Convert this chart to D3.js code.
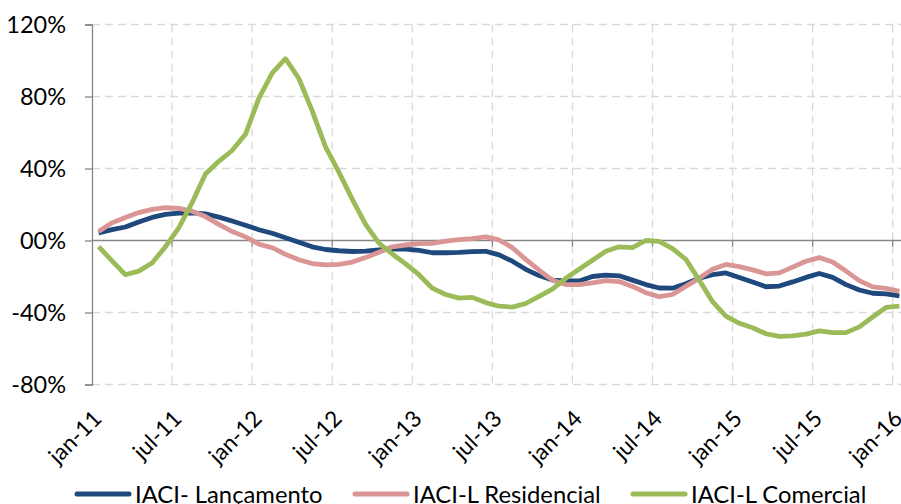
<!DOCTYPE html>
<html>
<head>
<meta charset="utf-8">
<script src="https://cdn.jsdelivr.net/npm/d3@7"></script>
<style>
  body { margin: 0; background: #fff; }
  text { font-family: Lato, "Open Sans", sans-serif; fill: #000; }
</style>
</head>
<body>
<div id="vis"></div>
<script>
// chart values (variation in %, monthly jan-11 .. jan-16)
const tickLabels = ['jan-11', 'jul-11', 'jan-12', 'jul-12', 'jan-13', 'jul-13',
                    'jan-14', 'jul-14', 'jan-15', 'jul-15', 'jan-16']
const yTicks = [-80, -40, 0, 40, 80, 120]
const seriesNames = ['IACI- Lançamento', 'IACI-L Residencial', 'IACI-L Comercial']

const lancamento = [4.2, 6, 7.5, 10.3, 12.8, 14.5, 15.2, 15.4, 14.8, 13, 10.8, 8.5,
  6, 4, 1.5, -1, -3.5, -5, -5.7, -6.1, -5.9, -5.2, -4.6, -4.8,
  -5.5, -6.8, -6.8, -6.6, -6.2, -6, -8, -11.5, -16, -19.5, -22, -22.5,
  -22.5, -20, -19.2, -19.6, -22, -24.5, -26.4, -26.5, -24, -21, -19, -18,
  -20.5, -23, -25.7, -25.3, -23, -20.5, -18.3, -20.5, -24.5, -27.5, -29.3, -29.7,
  -30.8]
const residencial = [5, 9.8, 12.8, 15.5, 17.3, 18.2, 17.8, 16.3, 13.3, 9, 5, 2,
  -2, -4, -7.7, -10.7, -12.8, -13.5, -13.3, -12, -9.5, -6.5, -3.5, -2.5,
  -1.7, -1.6, -0.3, 0.5, 1, 2, 0.3, -4, -10.5, -16.5, -22, -24.5,
  -24.5, -23.5, -22.3, -22.8, -25.5, -29, -31.2, -30, -25.5, -21, -16, -13.3,
  -14.5, -16.3, -18.5, -18, -14.8, -11.5, -9.5, -12, -17, -22.3, -25.8, -26.6,
  -28.3]
const comercial = [-3.4, -11.3, -19, -17, -12.5, -3.5, 7, 21, 37, 44, 50, 59,
  79, 93, 101, 90, 72, 52, 38, 23, 9, -1.5, -7.5, -13,
  -19, -26.5, -30, -32, -31.6, -34.5, -36.5, -37, -35, -31, -27, -21,
  -16, -11, -6, -3.5, -4, 0, -0.5, -4.5, -10.5, -22, -34, -42,
  -46, -48.5, -51.8, -53.3, -53, -52, -50.2, -51.2, -51.2, -48, -42.5, -37.2,
  -36.5]

const colors = ['#1F497D', '#DA9694', '#9BBB59']
const allSeries = [lancamento, residencial, comercial]

const W = 901, H = 504
const plot = { left: 92, top: 24.5, bottom: 384.5, monthW: 13.345 }

const svg = d3.select('#vis')
  .append('svg')
  .attr('width', W)
  .attr('height', H)

const xScale = d3.scaleLinear()
  .domain([0, 61])
  .range([plot.left, plot.left + 61 * plot.monthW])
const yScale = d3.scaleLinear()
  .domain([-80, 120])
  .range([plot.bottom, plot.top])

const gridMonths = d3.range(0, 61, 6)

// horizontal dashed gridlines
svg.selectAll('.hgrid')
  .data(yTicks.filter(d => d !== 0))
  .join('line')
  .attr('x1', plot.left).attr('x2', W)
  .attr('y1', d => yScale(d)).attr('y2', d => yScale(d))
  .attr('stroke', '#D9D9D9').attr('stroke-width', 1.3)
  .attr('stroke-dasharray', '8,5')

// vertical dashed gridlines
svg.selectAll('.vgrid')
  .data(gridMonths.slice(1))
  .join('line')
  .attr('x1', d => xScale(d)).attr('x2', d => xScale(d))
  .attr('y1', plot.top).attr('y2', plot.bottom)
  .attr('stroke', '#D9D9D9').attr('stroke-width', 1.3)
  .attr('stroke-dasharray', '8,5')

// zero line with ticks (category axis)
svg.append('line')
  .attr('x1', plot.left).attr('x2', W)
  .attr('y1', yScale(0)).attr('y2', yScale(0))
  .attr('stroke', '#868686').attr('stroke-width', 1.3)
svg.selectAll('.xtick')
  .data(gridMonths.slice(1))
  .join('line')
  .attr('x1', d => xScale(d)).attr('x2', d => xScale(d))
  .attr('y1', yScale(0)).attr('y2', yScale(0) + 6)
  .attr('stroke', '#868686').attr('stroke-width', 1.3)

// y axis
const yAxis = d3.axisLeft(yScale)
  .tickValues(yTicks)
  .tickSize(7)
  .tickFormat(d => (d === 0 ? '00' : d) + '%')
const gy = svg.append('g')
  .attr('transform', `translate(${plot.left},0)`)
  .call(yAxis)
gy.select('.domain').attr('stroke', '#868686').attr('stroke-width', 1.3)
gy.selectAll('.tick line').attr('stroke', '#868686').attr('stroke-width', 1.3)
gy.selectAll('.tick text')
  .attr('x', -26)
  .attr('dy', '0.36em')
  .style('font-size', '23.5px')
  .style('font-family', 'Lato, sans-serif')
  .attr('fill', '#000')

// rotated month labels
svg.selectAll('.xlabel')
  .data(tickLabels)
  .join('text')
  .attr('text-anchor', 'end')
  .attr('transform', (d, i) => `translate(${xScale(i * 6) + 11},${420}) rotate(-45)`)
  .style('font-size', '22.5px')
  .text(d => d)

// series lines
const line = d3.line()
  .x((d, i) => xScale(i + 0.5))
  .y(d => yScale(d))

svg.append('defs').append('clipPath').attr('id', 'clip')
  .append('rect').attr('x', plot.left).attr('y', 0).attr('width', W - plot.left).attr('height', H)

svg.append('g').attr('clip-path', 'url(#clip)')
  .selectAll('.series')
  .data(allSeries)
  .join('path')
  .attr('d', d => line(d))
  .attr('fill', 'none')
  .attr('stroke', (d, i) => colors[i])
  .attr('stroke-width', 4.8)
  .attr('stroke-linejoin', 'round')

// legend
const legendX = [77, 355, 633]
const lg = svg.selectAll('.legend')
  .data(seriesNames)
  .join('g')
  .attr('transform', (d, i) => `translate(${legendX[i]},${494})`)
lg.append('line')
  .attr('x1', 0).attr('x2', 52)
  .attr('stroke', (d, i) => colors[i])
  .attr('stroke-width', 5)
  .attr('stroke-linecap', 'round')
lg.append('text')
  .attr('x', 58)
  .attr('dy', '0.36em')
  .style('font-size', '23.8px')
  .text(d => d)
</script>
</body>
</html>
